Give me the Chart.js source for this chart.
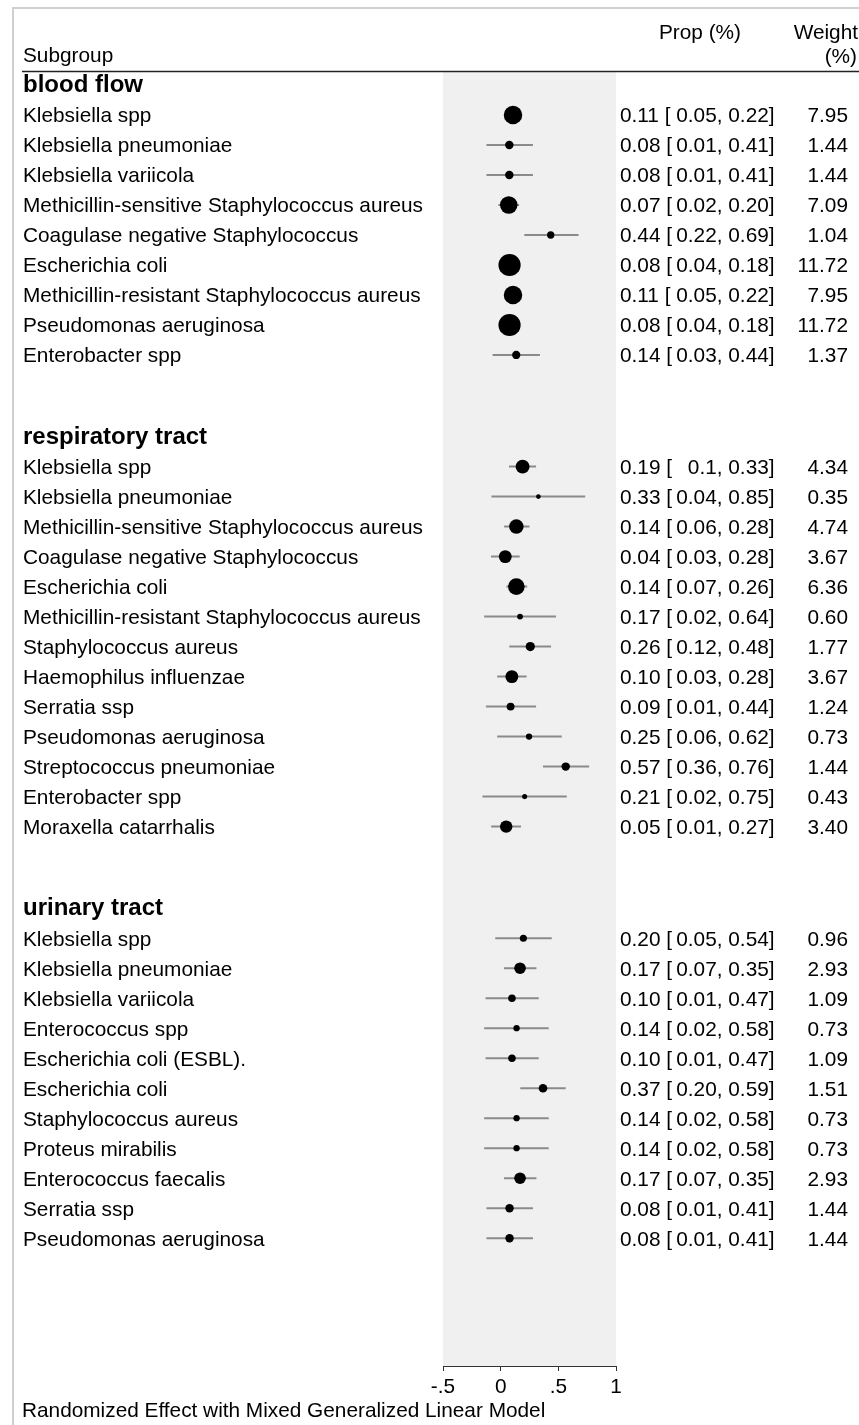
<!DOCTYPE html>
<html><head><meta charset="utf-8">
<script src="https://cdn.jsdelivr.net/npm/chart.js@4.4.1/dist/chart.umd.min.js"></script>
<style>html,body{margin:0;padding:0;background:#fff;}canvas{display:block;}</style>
</head><body>
<canvas id="c" width="859" height="1425"></canvas>
<script>
// ---------- DATA ----------
const groupNames = ['blood flow', 'respiratory tract', 'urinary tract'];

const bloodLabels = ['Klebsiella spp','Klebsiella pneumoniae','Klebsiella variicola','Methicillin-sensitive Staphylococcus aureus','Coagulase negative Staphylococcus','Escherichia coli','Methicillin-resistant Staphylococcus aureus','Pseudomonas aeruginosa','Enterobacter spp'];
const bloodEst = [0.107, 0.075, 0.075, 0.070, 0.434, 0.077, 0.107, 0.077, 0.135];
const bloodLo  = [0.040, -0.123, -0.123, -0.020, 0.205, 0.010, 0.040, 0.010, -0.070];
const bloodHi  = [0.170, 0.280, 0.280, 0.160, 0.675, 0.150, 0.170, 0.150, 0.340];
const bloodProp = ['0.11','0.08','0.08','0.07','0.44','0.08','0.11','0.08','0.14'];
const bloodCiLo = ['0.05','0.01','0.01','0.02','0.22','0.04','0.05','0.04','0.03'];
const bloodCiHi = ['0.22','0.41','0.41','0.20','0.69','0.18','0.22','0.18','0.44'];
const bloodWeight = ['7.95','1.44','1.44','7.09','1.04','11.72','7.95','11.72','1.37'];

const respLabels = ['Klebsiella spp','Klebsiella pneumoniae','Methicillin-sensitive Staphylococcus aureus','Coagulase negative Staphylococcus','Escherichia coli','Methicillin-resistant Staphylococcus aureus','Staphylococcus aureus','Haemophilus influenzae','Serratia ssp','Pseudomonas aeruginosa','Streptococcus pneumoniae','Enterobacter spp','Moraxella catarrhalis'];
const respEst = [0.190, 0.327, 0.136, 0.040, 0.136, 0.168, 0.257, 0.097, 0.086, 0.246, 0.564, 0.208, 0.048];
const respLo  = [0.072, -0.080, 0.030, -0.084, 0.050, -0.143, 0.075, -0.030, -0.128, -0.030, 0.367, -0.158, -0.082];
const respHi  = [0.307, 0.733, 0.250, 0.165, 0.230, 0.480, 0.437, 0.225, 0.307, 0.530, 0.767, 0.573, 0.176];
const respProp = ['0.19','0.33','0.14','0.04','0.14','0.17','0.26','0.10','0.09','0.25','0.57','0.21','0.05'];
const respCiLo = ['0.1','0.04','0.06','0.03','0.07','0.02','0.12','0.03','0.01','0.06','0.36','0.02','0.01'];
const respCiHi = ['0.33','0.85','0.28','0.28','0.26','0.64','0.48','0.28','0.44','0.62','0.76','0.75','0.27'];
const respWeight = ['4.34','0.35','4.74','3.67','6.36','0.60','1.77','3.67','1.24','0.73','1.44','0.43','3.40'];

const urinLabels = ['Klebsiella spp','Klebsiella pneumoniae','Klebsiella variicola','Enterococcus spp','Escherichia coli (ESBL).','Escherichia coli','Staphylococcus aureus','Proteus mirabilis','Enterococcus faecalis','Serratia ssp','Pseudomonas aeruginosa'];
const urinEst = [0.197, 0.168, 0.098, 0.138, 0.098, 0.367, 0.138, 0.138, 0.168, 0.077, 0.077];
const urinLo  = [-0.047, 0.029, -0.131, -0.143, -0.131, 0.170, -0.143, -0.143, 0.029, -0.123, -0.123];
const urinHi  = [0.443, 0.310, 0.330, 0.417, 0.330, 0.564, 0.417, 0.417, 0.310, 0.280, 0.280];
const urinProp = ['0.20','0.17','0.10','0.14','0.10','0.37','0.14','0.14','0.17','0.08','0.08'];
const urinCiLo = ['0.05','0.07','0.01','0.02','0.01','0.20','0.02','0.02','0.07','0.01','0.01'];
const urinCiHi = ['0.54','0.35','0.47','0.58','0.47','0.59','0.58','0.58','0.35','0.41','0.41'];
const urinWeight = ['0.96','2.93','1.09','0.73','1.09','1.51','0.73','0.73','2.93','1.44','1.44'];

const xTicks = [-0.5, 0, 0.5, 1];
const xTickLabels = ['-.5', '0', '.5', '1'];

// ---------- LAYOUT (row positions in row units) ----------
const groups = [
  {name: groupNames[0], labels: bloodLabels, est: bloodEst, lo: bloodLo, hi: bloodHi, prop: bloodProp, cl: bloodCiLo, ch: bloodCiHi, w: bloodWeight},
  {name: groupNames[1], labels: respLabels, est: respEst, lo: respLo, hi: respHi, prop: respProp, cl: respCiLo, ch: respCiHi, w: respWeight},
  {name: groupNames[2], labels: urinLabels, est: urinEst, lo: urinLo, hi: urinHi, prop: urinProp, cl: urinCiLo, ch: urinCiHi, w: urinWeight}
];
const FIRST_ROW = 1.433, GROUP_GAP = 3.72, HEADER_OFF = 1.05, Y_MAX = 43.133;
let cursor = FIRST_ROW;
groups.forEach(g => {
  g.headerY = cursor - HEADER_OFF;
  g.rows = g.labels.map((_, i) => cursor + i);
  cursor = cursor + (g.labels.length - 1) + GROUP_GAP;
});

const pointData = [], radii = [], whiskerData = [];
groups.forEach(g => {
  g.rows.forEach((y, i) => {
    pointData.push({x: g.est[i], y: y});
    radii.push(0.5 + 3.1 * Math.sqrt(parseFloat(g.w[i])));
    whiskerData.push({x: g.lo[i], y: y}, {x: g.hi[i], y: y}, {x: g.hi[i], y: null});
  });
});

const FONT = '"Liberation Sans", Arial, Helvetica, sans-serif';
const FS = 20.8;

const bgPlugin = {
  id: 'bg',
  beforeDraw(chart) {
    const ctx = chart.ctx, a = chart.chartArea;
    ctx.save();
    ctx.fillStyle = '#fff';
    ctx.fillRect(0, 0, chart.width, chart.height);
    // light frame
    ctx.strokeStyle = '#cfcfcf';
    ctx.lineWidth = 2;
    ctx.beginPath();
    ctx.moveTo(13, 1425); ctx.lineTo(13, 8); ctx.lineTo(859, 8);
    ctx.stroke();
    // grey plot panel
    ctx.fillStyle = '#f0f0f0';
    ctx.fillRect(a.left, a.top, a.right - a.left, a.bottom - a.top);
    ctx.restore();
  }
};

const textPlugin = {
  id: 'texts',
  afterDraw(chart) {
    const ctx = chart.ctx, ys = chart.scales.y;
    ctx.save();
    ctx.fillStyle = '#000';
    ctx.textBaseline = 'alphabetic';
    // column headers
    ctx.font = FS + 'px ' + FONT;
    ctx.textAlign = 'left';
    ctx.fillText('Subgroup', 23, 62);
    ctx.textAlign = 'center';
    ctx.fillText('Prop (%)', 700, 39);
    ctx.textAlign = 'right';
    ctx.fillText('Weight', 858, 39);
    ctx.fillText('(%)', 857, 63);
    // header rule
    ctx.strokeStyle = '#222';
    ctx.lineWidth = 1.5;
    ctx.beginPath(); ctx.moveTo(22, 71.5); ctx.lineTo(859, 71.5); ctx.stroke();

    const startX = 620;
    ctx.font = FS + 'px ' + FONT;
    const preW = ctx.measureText('0.11 [ ').width;
    const loW = ctx.measureText('0.05').width;
    const commaX = startX + preW + loW;

    groups.forEach(g => {
      ctx.font = 'bold 24px ' + FONT;
      ctx.textAlign = 'left';
      ctx.fillText(g.name, 23, ys.getPixelForValue(g.headerY) + 8.5);
      ctx.font = FS + 'px ' + FONT;
      g.rows.forEach((r, i) => {
        const yb = ys.getPixelForValue(r) + 7.5;
        ctx.textAlign = 'left';
        ctx.fillText(g.labels[i], 23, yb);
        ctx.fillText(g.prop[i] + ' [', startX, yb);
        ctx.textAlign = 'right';
        ctx.fillText(g.cl[i], commaX, yb);
        ctx.textAlign = 'left';
        ctx.fillText(', ' + g.ch[i] + ']', commaX, yb);
        ctx.textAlign = 'right';
        ctx.fillText(g.w[i], 848, yb);
      });
    });
    // footnote
    ctx.textAlign = 'left';
    ctx.font = FS + 'px ' + FONT;
    ctx.fillText('Randomized Effect with Mixed Generalized Linear Model', 22, 1417);
    ctx.restore();
  }
};

new Chart(document.getElementById('c'), {
  type: 'scatter',
  data: {
    datasets: [
      {
        label: 'estimate',
        data: pointData,
        order: 0,
        pointRadius: radii,
        pointHoverRadius: radii,
        pointBackgroundColor: '#000',
        pointBorderColor: '#000',
        pointBorderWidth: 0,
        showLine: false
      },
      {
        label: 'ci',
        data: whiskerData,
        order: 1,
        showLine: true,
        spanGaps: false,
        pointRadius: 0,
        borderColor: '#8a8a8a',
        borderWidth: 2
      }
    ]
  },
  options: {
    responsive: false,
    animation: false,
    devicePixelRatio: 1,
    layout: {padding: {left: 443, right: 243, top: 72, bottom: 19}},
    plugins: {legend: {display: false}, tooltip: {enabled: false}},
    scales: {
      x: {
        type: 'linear', min: -0.5, max: 1,
        afterBuildTicks(scale) { scale.ticks = xTicks.map(v => ({value: v})); },
        afterFit(scale) { scale.height = 40; },
        ticks: {
          callback: (v) => xTickLabels[xTicks.indexOf(v)],
          color: '#000', font: {family: FONT, size: FS}, padding: 4, maxRotation: 0, autoSkip: false
        },
        grid: {display: true, drawOnChartArea: false, drawTicks: true, tickLength: 5, color: '#333', lineWidth: 1},
        border: {display: true, color: '#333', width: 1}
      },
      y: {
        type: 'linear', reverse: true, min: 0, max: Y_MAX, display: false
      }
    }
  },
  plugins: [bgPlugin, textPlugin]
});
</script>
</body></html>
